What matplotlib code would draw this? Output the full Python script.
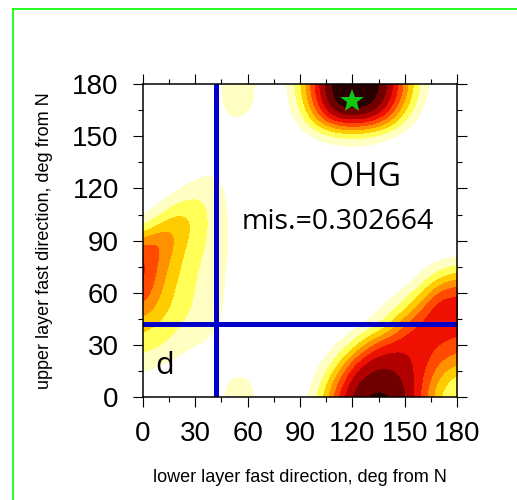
import numpy as np
import matplotlib.pyplot as plt
from matplotlib.colors import ListedColormap, BoundaryNorm
from matplotlib.lines import Line2D

# grid of fit values, rows = upper layer angle 0..180, cols = lower layer angle 0..180 (10 deg step)
lower_deg = np.arange(0, 181, 10)
upper_deg = np.arange(0, 181, 10)
fit = np.array([
    # x: 0    10    20    30    40    50    60    70    80    90    100   110   120   130   140   150   160   170   180
    [0.00, 0.00, 0.00, 0.00, 0.00, 0.10, 0.10, 0.00, 0.00, 0.00, 0.15, 0.52, 0.80, 0.88, 0.88, 0.78, 0.52, 0.22, 0.12],  # 0
    [0.04, 0.00, 0.00, 0.00, 0.00, 0.08, 0.08, 0.00, 0.00, 0.00, 0.06, 0.38, 0.72, 0.80, 0.80, 0.75, 0.56, 0.32, 0.18],  # 10
    [0.10, 0.07, 0.04, 0.00, 0.00, 0.00, 0.00, 0.00, 0.00, 0.00, 0.02, 0.15, 0.52, 0.72, 0.74, 0.68, 0.60, 0.45, 0.38],  # 20
    [0.20, 0.16, 0.10, 0.07, 0.04, 0.00, 0.00, 0.00, 0.00, 0.00, 0.00, 0.03, 0.15, 0.45, 0.60, 0.63, 0.62, 0.55, 0.50],  # 30
    [0.28, 0.22, 0.15, 0.10, 0.08, 0.03, 0.00, 0.00, 0.00, 0.00, 0.00, 0.00, 0.02, 0.08, 0.25, 0.52, 0.60, 0.63, 0.60],  # 40
    [0.42, 0.30, 0.20, 0.13, 0.09, 0.03, 0.00, 0.00, 0.00, 0.00, 0.00, 0.00, 0.00, 0.02, 0.08, 0.25, 0.50, 0.66, 0.60],  # 50
    [0.55, 0.35, 0.22, 0.14, 0.10, 0.04, 0.00, 0.00, 0.00, 0.00, 0.00, 0.00, 0.00, 0.00, 0.02, 0.06, 0.25, 0.52, 0.55],  # 60
    [0.60, 0.40, 0.25, 0.15, 0.10, 0.04, 0.00, 0.00, 0.00, 0.00, 0.00, 0.00, 0.00, 0.00, 0.00, 0.00, 0.06, 0.20, 0.30],  # 70
    [0.58, 0.45, 0.28, 0.17, 0.11, 0.05, 0.00, 0.00, 0.00, 0.00, 0.00, 0.00, 0.00, 0.00, 0.00, 0.00, 0.00, 0.02, 0.04],  # 80
    [0.40, 0.50, 0.32, 0.20, 0.12, 0.05, 0.00, 0.00, 0.00, 0.00, 0.00, 0.00, 0.00, 0.00, 0.00, 0.00, 0.00, 0.00, 0.00],  # 90
    [0.06, 0.25, 0.35, 0.22, 0.12, 0.05, 0.00, 0.00, 0.00, 0.00, 0.00, 0.00, 0.00, 0.00, 0.00, 0.00, 0.00, 0.00, 0.00],  # 100
    [0.00, 0.05, 0.18, 0.20, 0.12, 0.04, 0.00, 0.00, 0.00, 0.00, 0.00, 0.00, 0.00, 0.00, 0.00, 0.00, 0.00, 0.00, 0.00],  # 110
    [0.00, 0.00, 0.03, 0.10, 0.10, 0.03, 0.00, 0.00, 0.00, 0.00, 0.00, 0.00, 0.00, 0.00, 0.00, 0.00, 0.00, 0.00, 0.00],  # 120
    [0.00, 0.00, 0.00, 0.02, 0.06, 0.02, 0.00, 0.00, 0.00, 0.00, 0.00, 0.00, 0.00, 0.00, 0.00, 0.00, 0.00, 0.00, 0.00],  # 130
    [0.00, 0.00, 0.00, 0.00, 0.00, 0.00, 0.00, 0.00, 0.00, 0.00, 0.00, 0.00, 0.00, 0.00, 0.00, 0.00, 0.00, 0.00, 0.00],  # 140
    [0.00, 0.00, 0.00, 0.00, 0.00, 0.00, 0.00, 0.00, 0.00, 0.00, 0.05, 0.12, 0.15, 0.12, 0.04, 0.00, 0.00, 0.00, 0.00],  # 150
    [0.00, 0.00, 0.00, 0.00, 0.00, 0.07, 0.05, 0.00, 0.00, 0.08, 0.42, 0.72, 0.78, 0.72, 0.50, 0.15, 0.00, 0.00, 0.00],  # 160
    [0.00, 0.00, 0.00, 0.00, 0.00, 0.12, 0.10, 0.00, 0.00, 0.18, 0.62, 0.92, 0.96, 0.92, 0.74, 0.35, 0.05, 0.00, 0.00],  # 170
    [0.00, 0.00, 0.00, 0.00, 0.00, 0.12, 0.10, 0.00, 0.00, 0.22, 0.66, 0.92, 0.98, 0.95, 0.78, 0.42, 0.08, 0.00, 0.00],  # 180
])

best_lower = 120
best_upper = 170
pick_lower = 42
pick_upper = 42
station = "OHG"
misfit = 0.302664
panel = "d"

colors = ["white", "#ffffc4", "#ffff58", "#ffcc00", "#ff9000",
          "#ff4a00", "#ee1000", "#b00000", "#700000", "#280000"]
bounds = [-1, 0.06, 0.15, 0.25, 0.35, 0.45, 0.55, 0.65, 0.75, 0.85, 2]
cmap = ListedColormap(colors)
norm = BoundaryNorm(bounds, cmap.N)

plt.rcParams['font.family'] = ['Liberation Sans', 'DejaVu Sans']

fig = plt.figure(figsize=(5.17, 5.0), dpi=100)
ax = fig.add_axes([142.7 / 517, 1 - 397.3 / 500, 314.6 / 517, 313.3 / 500])

step = lower_deg[1] - lower_deg[0]
ax.imshow(fit, origin="lower", cmap=cmap, norm=norm, interpolation="bicubic",
          extent=[lower_deg[0] - step / 2, lower_deg[-1] + step / 2,
                  upper_deg[0] - step / 2, upper_deg[-1] + step / 2],
          aspect="auto")

ax.axvline(pick_lower, color="#0000c8", lw=3.6)
ax.axhline(pick_upper, color="#0000c8", lw=3.6)
ax.plot(best_lower, best_upper, marker="*", color="#10c810", markersize=18,
        markeredgewidth=0)

ax.text(127.2, 126.3, station, fontsize=23, family="Open Sans", ha="center", va="center")
ax.text(111.7, 100.5, "mis.=%g" % misfit, fontsize=20.5, family="Open Sans",
        ha="center", va="center")
ax.text(12.8, 17.7, panel, fontsize=22, family="Open Sans", ha="center", va="center")

ax.set_xlim(0, 180)
ax.set_ylim(0, 180)
ax.set_xticks(np.arange(0, 181, 30))
ax.set_yticks(np.arange(0, 181, 30))
ax.set_xticks(np.arange(0, 181, 15), minor=True)
ax.set_yticks(np.arange(0, 181, 15), minor=True)
ax.tick_params(which="both", direction="out", top=True, right=True, width=0.8)
ax.tick_params(which="major", length=7.2, labelsize=20, pad=10)
ax.tick_params(which="minor", length=3.6)
for s in ax.spines.values():
    s.set_linewidth(1.1)

ax.set_xlabel("lower layer fast direction, deg from N", fontsize=13, labelpad=16)
ax.set_ylabel("upper layer fast direction, deg from N", fontsize=13, labelpad=14)

# green outline around the panel
fig.add_artist(Line2D([12.5 / 517, 12.5 / 517], [1 - 8.5 / 500, -0.1],
                      color="#00ff00", lw=1.2, transform=fig.transFigure))
fig.add_artist(Line2D([12.5 / 517, 1.1], [1 - 8.5 / 500, 1 - 8.5 / 500],
                      color="#00ff00", lw=1.2, transform=fig.transFigure))

fig.savefig("out.png", dpi=100)
